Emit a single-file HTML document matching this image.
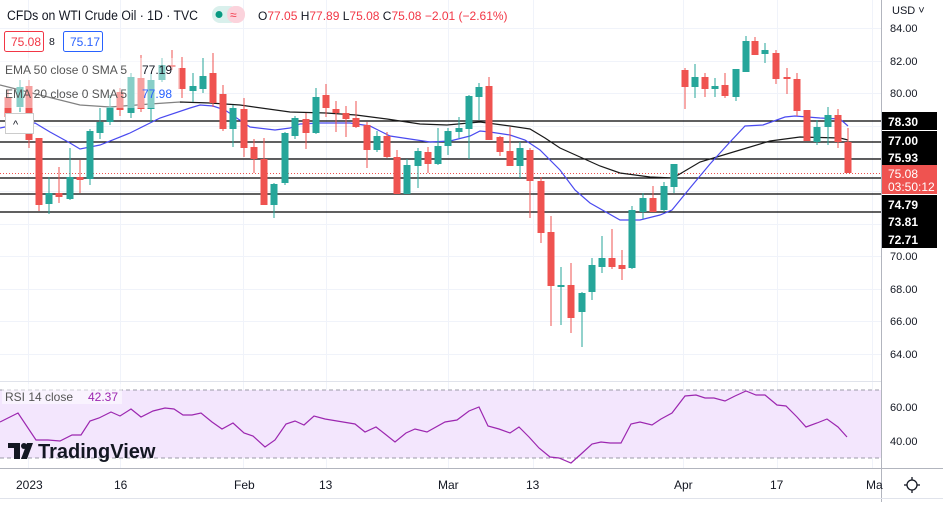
<!DOCTYPE html>
<html><head><meta charset="utf-8"><style>
html,body{margin:0;padding:0;background:#fff;}
body{width:943px;height:502px;overflow:hidden;font-family:"Liberation Sans",sans-serif;}
svg text{font-family:"Liberation Sans",sans-serif;}
</style></head><body>
<svg id="s" width="943" height="502" xmlns="http://www.w3.org/2000/svg">
<rect width="943" height="502" fill="#fff"/>
<g id="grid" stroke="#f0f3fa" stroke-width="1"></g>
<rect x="0" y="390" width="881" height="68" fill="#f3e6fd"/>
<line x1="0" y1="390" x2="881" y2="390" stroke="#9b9ba8" stroke-dasharray="4,3"/>
<line x1="0" y1="458" x2="881" y2="458" stroke="#9b9ba8" stroke-dasharray="4,3"/>
<g id="hl" stroke="#000" stroke-width="1.3"></g>
<line x1="0" y1="173.5" x2="881" y2="173.5" stroke="#ef5350" stroke-dasharray="1,2"/>
<polyline id="ema50" fill="none" stroke="#1a1a1a" stroke-width="1.2"/>
<polyline id="ema20" fill="none" stroke="#4a4af0" stroke-width="1.2"/>
<g id="candles"></g>
<polyline id="rsi" fill="none" stroke="#9c27b0" stroke-width="1.2"/>
<rect x="0" y="58" width="180" height="50" fill="#fff" opacity="0.45"/>
<rect x="2" y="384" width="120" height="20" fill="#fff" opacity="0.5"/>
<text x="7" y="20" font-size="13.5" fill="#131722" textLength="191" lengthAdjust="spacingAndGlyphs">CFDs on WTI Crude Oil · 1D · TVC</text>
<rect x="212" y="6" width="26" height="17" rx="8" fill="#d9f0ec"/>
<circle cx="219" cy="14.5" r="3.5" fill="#089981"/>
<rect x="227" y="6" width="18" height="17" rx="8" fill="#fbd3dc"/>
<text x="230" y="19" font-size="12" fill="#f23645">≈</text>
<text x="258" y="20" font-size="12" fill="#131722">O<tspan fill="#f23645">77.05</tspan> H<tspan fill="#f23645">77.89</tspan> L<tspan fill="#f23645">75.08</tspan> C<tspan fill="#f23645">75.08</tspan> <tspan fill="#f23645">−2.01 (−2.61%)</tspan></text>
<rect x="4.5" y="31.5" width="39" height="20" rx="2" fill="none" stroke="#f23645"/>
<text x="11" y="46" font-size="12" fill="#f23645">75.08</text>
<text x="49" y="45" font-size="10.5" fill="#131722">8</text>
<rect x="63.5" y="31.5" width="39" height="20" rx="2" fill="none" stroke="#2962ff"/>
<text x="70" y="46" font-size="12" fill="#2962ff">75.17</text>
<text x="5" y="74" font-size="12" fill="#555">EMA 50 close 0 SMA 5</text>
<text x="142" y="74" font-size="12" fill="#131722">77.19</text>
<text x="5" y="98" font-size="12" fill="#555">EMA 20 close 0 SMA 5</text>
<text x="142" y="98" font-size="12" fill="#2962ff">77.98</text>
<rect x="5.5" y="113.5" width="28" height="20" fill="#fff" stroke="#ccc"/>
<text x="13" y="128" font-size="11" fill="#131722">^</text>
<text x="5" y="401" font-size="12" fill="#555">RSI 14 close</text>
<text x="88" y="401" font-size="12" fill="#9c27b0">42.37</text>
<g fill="#131722">
<rect x="8" y="443" width="12" height="5"/><rect x="14" y="443" width="6" height="16"/>
<circle cx="24" cy="446" r="3"/><path d="M27 443 L33 443 L27 459 L21 459 Z"/>
</g>
<text x="38" y="458" font-size="20" fill="#131722" font-weight="bold">TradingView</text>
<line x1="881.5" y1="0" x2="881.5" y2="502" stroke="#b2b5be"/>
<line x1="0" y1="381.5" x2="881" y2="381.5" stroke="#e0e3eb"/>
<line x1="0" y1="468.5" x2="943" y2="468.5" stroke="#b2b5be"/>
<line x1="0" y1="498.5" x2="943" y2="498.5" stroke="#e0e3eb"/>
<text x="892" y="14" font-size="11" fill="#131722">USD ˅</text>
<g font-size="11" fill="#131722">
<text x="890" y="32">84.00</text><text x="890" y="65">82.00</text><text x="890" y="97">80.00</text>
<text x="890" y="260">70.00</text><text x="890" y="293">68.00</text><text x="890" y="325">66.00</text><text x="890" y="358">64.00</text>
<text x="890" y="411">60.00</text><text x="890" y="445">40.00</text>
</g>
<g font-size="12" fill="#fff" font-weight="bold">
<rect x="882" y="112" width="55" height="18" fill="#000"/><text x="888" y="126">78.30</text>
<rect x="882" y="131" width="55" height="18" fill="#000"/><text x="888" y="145">77.00</text>
<rect x="882" y="148" width="55" height="18" fill="#000"/><text x="888" y="162">75.93</text>
<rect x="882" y="165" width="55" height="29" fill="#ef5350"/>
<text x="888" y="178" font-weight="normal">75.08</text><text x="888" y="191" font-weight="normal">03:50:12</text>
<rect x="882" y="195" width="55" height="18" fill="#000"/><text x="888" y="209">74.79</text>
<rect x="882" y="212" width="55" height="18" fill="#000"/><text x="888" y="226">73.81</text>
<rect x="882" y="230" width="55" height="18" fill="#000"/><text x="888" y="244">72.71</text>
</g>
<g font-size="12" fill="#131722">
<text x="16" y="489">2023</text><text x="114" y="489">16</text><text x="234" y="489">Feb</text>
<text x="319" y="489">13</text><text x="438" y="489">Mar</text><text x="526" y="489">13</text>
<text x="674" y="489">Apr</text><text x="770" y="489">17</text><text x="866" y="489">Ma</text>
</g>
<circle cx="912" cy="485" r="5" fill="none" stroke="#131722" stroke-width="1.3"/>
<g stroke="#131722" stroke-width="1.3"><line x1="912" y1="477" x2="912" y2="480"/><line x1="912" y1="490" x2="912" y2="493"/><line x1="904" y1="485" x2="907" y2="485"/><line x1="917" y1="485" x2="920" y2="485"/></g>
</svg>
<script>
var NS="http://www.w3.org/2000/svg";
function el(p,t,a){var e=document.createElementNS(NS,t);for(var k in a)e.setAttribute(k,a[k]);document.getElementById(p).appendChild(e);return e;}
[28,61,93,126,158,191,224,256,289,321,354,407,441].forEach(function(y){el('grid','line',{x1:0,x2:881,y1:y+.5,y2:y+.5});});
[28,120,243,326,448,533,683,777,872].forEach(function(x){el('grid','line',{x1:x+.5,x2:x+.5,y1:0,y2:468});});
[121,142,159,178,194,212].forEach(function(y){el('hl','line',{x1:0,x2:881,y1:y,y2:y});});
var G="#26a69a",R="#ef5350";
var c=[[8,97,117,90,125,R],[20,87,107,80,112,G],[29,86,140,80,148,R],[39,138,205,138,211,R],[49,193,204,177,214,G],[59,193,197,167,203,R],[70,177,199,148,200,G],[80,177,180,160,193,R],[90,131,179,129,185,G],[100,122,133,108,139,G],[110,107,122,95,125,G],[120,92,110,88,116,R],[131,77,113,73,118,G],[141,78,109,55,112,R],[151,80,109,73,122,G],[162,65,80,58,82,G],[172,65,67,50,70,R],[182,68,89,57,98,R],[193,86,91,73,102,G],[203,76,89,58,93,G],[213,73,103,53,107,R],[223,94,129,85,131,R],[233,108,129,105,147,G],[244,109,148,98,157,R],[254,147,159,139,173,R],[264,159,205,138,205,R],[274,184,205,183,218,G],[285,133,183,132,185,G],[295,118,136,116,139,G],[306,119,133,113,149,R],[316,97,133,88,134,G],[326,95,108,84,117,R],[336,109,113,101,132,R],[346,113,119,106,137,R],[356,118,127,101,128,R],[367,125,150,122,168,R],[377,136,150,131,152,G],[387,136,157,132,158,R],[397,157,194,150,194,R],[407,165,194,159,194,G],[418,151,166,148,188,G],[428,152,164,147,173,R],[438,146,164,128,165,G],[448,131,146,128,155,G],[459,128,132,117,138,G],[469,96,129,95,159,G],[479,87,97,83,120,G],[489,86,140,77,140,R],[500,137,152,136,156,R],[510,151,166,127,166,R],[520,148,166,142,178,G],[530,150,181,148,218,R],[541,181,233,177,243,R],[551,232,286,216,326,R],[561,285,287,267,325,G],[571,285,318,263,333,R],[582,293,312,292,347,G],[592,265,292,258,300,G],[602,258,267,236,273,G],[612,258,267,229,269,R],[622,265,269,250,280,R],[632,210,268,206,269,G],[643,198,212,193,219,G],[653,198,212,186,212,R],[664,186,210,182,212,G],[674,164,187,164,193,G],[685,70,87,68,109,R],[695,77,87,64,98,G],[705,77,89,73,97,R],[715,86,89,78,97,G],[725,85,96,73,98,R],[736,69,97,69,101,G],[746,41,72,36,72,G],[755,41,55,37,55,R],[765,50,54,43,63,G],[776,53,79,50,84,R],[787,77,79,68,94,R],[797,79,111,73,116,R],[807,110,141,110,141,R],[817,127,142,120,145,G],[828,115,127,107,145,G],[838,115,142,109,148,R],[848,142,173,128,173,R]];
c.forEach(function(d){
el('candles','line',{x1:d[0],x2:d[0],y1:d[3],y2:d[4],stroke:d[5],'stroke-width':1});
el('candles','rect',{x:d[0]-3.5,y:d[1],width:7,height:Math.max(1.5,d[2]-d[1]),fill:d[5]});});
document.getElementById('ema50').setAttribute('points',"0,85 40,95 80,105 110,107 150,104 180,102 210,103 240,105 290,112 326,113 356,115 387,119 420,124 447,125 480,122 510,126 530,129 545,138 560,148 580,157 600,166 620,173 650,177 673,178 700,162 740,150 770,141 800,137 840,138 848,140");
document.getElementById('ema20').setAttribute('points',"0,128 20,124 35,123 50,132 70,143 80,149 100,145 130,133 160,118 190,108 200,105 213,106 225,110 250,127 275,130 290,128 300,124 320,123 350,123 370,126 390,136 430,142 450,141 470,136 480,131 490,132 510,135 525,140 540,150 560,170 575,190 590,203 620,220 640,220 660,215 672,210 690,188 710,164 730,142 745,126 763,125 785,117 795,116 820,118 840,119 848,126");
document.getElementById('rsi').setAttribute('points',"0,422 18,413 36,440 48,440 60,441 72,435 81,435 90,421 99,418 111,412 120,416 131,409 141,417 153,411 165,408 174,409 183,415 192,415 201,413 212,422 222,429 233,423 244,433 253,436 265,447 275,440 286,424 295,421 304,425 314,416 325,419 337,421 355,424 365,432 376,427 385,434 395,442 406,433 415,429 427,432 445,422 457,420 469,411 479,407 488,426 499,429 510,433 519,427 529,437 539,448 550,457 559,458 571,463 580,455 592,444 601,442 610,443 621,443 631,424 640,422 652,425 661,419 672,413 685,396 696,395 705,398 714,398 725,401 735,396 746,391 756,395 765,395 777,405 786,406 797,417 806,427 817,423 827,419 838,427 847,437");
</script>
</body></html>
